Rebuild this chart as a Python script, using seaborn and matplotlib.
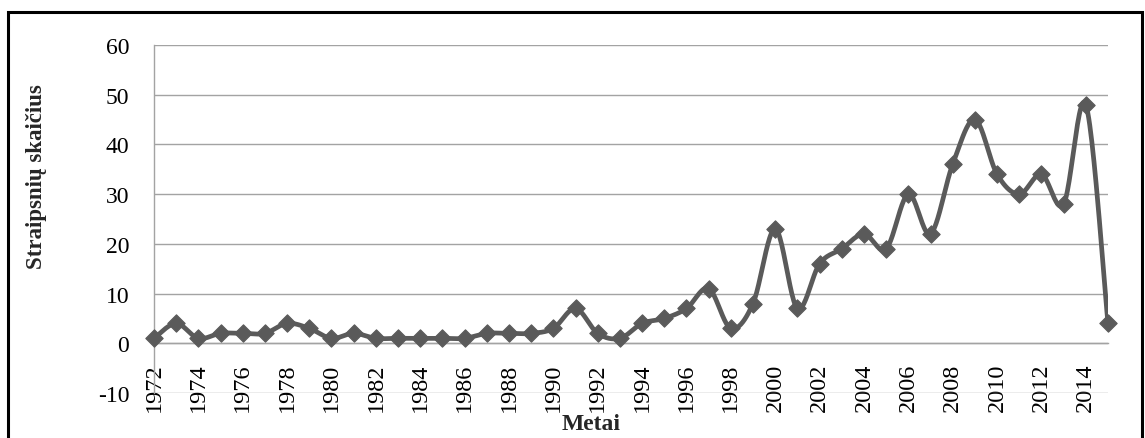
import numpy as np
import pandas as pd
import matplotlib
matplotlib.use("Agg")
import matplotlib.pyplot as plt
from matplotlib.patches import Rectangle
from matplotlib.ticker import MultipleLocator, FixedLocator
import seaborn as sns

# Number of articles published per year
years = list(range(1972, 2016))
articles = [1, 4, 1, 2, 2, 2, 4, 3, 1, 2,
            1, 1, 1, 1, 1, 2, 2, 2, 3, 7,
            2, 1, 4, 5, 7, 11, 3, 8, 23, 7,
            16, 19, 22, 19, 30, 22, 36, 45, 34, 30,
            34, 28, 48, 4]

y_ticks = [-10, 0, 10, 20, 30, 40, 50, 60]
x_ticks = list(range(1972, 2015, 2))
x_tick_labels = [str(v) for v in x_ticks]

x_label = "Metai"
y_label = "Straipsnių skaičius"


def smooth_curve(x, y, n=24):
    """Cubic Bezier smoothing through every point (Catmull-Rom control points)."""
    x = np.asarray(x, float)
    y = np.asarray(y, float)
    pts = np.column_stack([x, y])
    padded = np.vstack([pts[:1], pts, pts[-1:]])
    t = np.linspace(0, 1, n, endpoint=False)[:, None]
    out = []
    for i in range(len(pts) - 1):
        p0, p1, p2, p3 = padded[i], padded[i + 1], padded[i + 2], padded[i + 3]
        c1 = p1 + (p2 - p0) / 6.0
        c2 = p2 - (p3 - p1) / 6.0
        seg = ((1 - t) ** 3) * p1 + 3 * ((1 - t) ** 2) * t * c1 \
            + 3 * (1 - t) * t ** 2 * c2 + t ** 3 * p2
        out.append(seg)
    out.append(pts[-1:])
    out = np.vstack(out)
    return out[:, 0], out[:, 1]


sns.set_style("white")
plt.rcParams["font.family"] = ["Liberation Serif", "DejaVu Serif"]

W, H = 1145, 439
fig = plt.figure(figsize=(W / 100, H / 100), dpi=100)

x0, x1 = 154, 1108
y_top, y_bot = 46, 394
ax = fig.add_axes([x0 / W, 1 - y_bot / H, (x1 - x0) / W, (y_bot - y_top) / H])

line_color = "#5a5a5a"
grid_color = "#a3a3a3"

df = pd.DataFrame({"year": years, "articles": articles})
sx, sy = smooth_curve(df["year"], df["articles"])
curve = pd.DataFrame({"year": sx, "articles": sy})

sns.lineplot(data=curve, x="year", y="articles", sort=False, estimator=None,
             color=line_color, linewidth=3.4, ax=ax, zorder=3)
sns.scatterplot(data=df, x="year", y="articles", marker="D", s=78,
                color=line_color, edgecolor=line_color, linewidth=0.8,
                ax=ax, zorder=4, clip_on=False)

ax.set_xlim(1972, 2015)
ax.set_ylim(-10, 60)
ax.yaxis.set_major_locator(FixedLocator(y_ticks))
ax.set_yticklabels([str(v) for v in y_ticks])
ax.xaxis.set_major_locator(FixedLocator(x_ticks))
ax.set_xticklabels(x_tick_labels)
ax.xaxis.set_minor_locator(MultipleLocator(0.4))

ax.yaxis.grid(True, color=grid_color, linewidth=1.0)
ax.xaxis.grid(False)
ax.set_axisbelow(True)

for side in ("top", "right"):
    ax.spines[side].set_visible(False)
ax.spines["left"].set_color(grid_color)
ax.spines["left"].set_linewidth(1.0)
ax.spines["bottom"].set_position(("data", 0))
ax.spines["bottom"].set_color(grid_color)
ax.spines["bottom"].set_linewidth(1.0)
ax.spines["bottom"].set_zorder(2)

ax.tick_params(axis="x", which="major", direction="in", length=5, width=1,
               color=grid_color, pad=14, labelsize=17.5, labelrotation=90,
               labelcolor="black")
ax.tick_params(axis="x", which="minor", direction="in", length=2.5, width=1,
               color=grid_color)
ax.tick_params(axis="y", which="major", direction="out", length=5.8, width=1,
               color=grid_color, pad=12, labelsize=17, labelcolor="black")

ax.set_xlabel("")
ax.set_ylabel("")

fig.text(591 / W, 1 - 430 / H, x_label, ha="center", va="baseline",
         fontsize=17, fontweight="bold")
fig.text(37 / W, 1 - 177 / H, y_label, ha="center", va="center",
         rotation=90, fontsize=16.5, fontweight="bold")

# Chart frame
fig.patches.append(Rectangle((8 / W, -0.1), (1142 - 8) / W, 1.1 - 13 / H,
                             transform=fig.transFigure, fill=False,
                             edgecolor="black", linewidth=2.2, zorder=0))

fig.savefig("out.png", dpi=100)
